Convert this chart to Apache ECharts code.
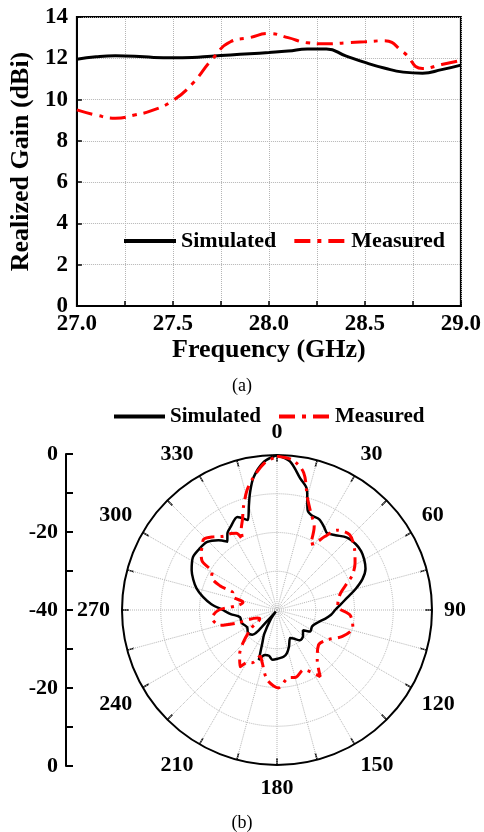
<!DOCTYPE html>
<html>
<head>
<meta charset="utf-8">
<script src="https://cdn.jsdelivr.net/npm/echarts@6/dist/echarts.min.js"></script>
<style>
html,body{margin:0;padding:0;background:#fff;}
#c{width:484px;height:832px;}
</style>
</head>
<body>
<div id="c"></div>
<script>
// ---- (a) Realized gain vs frequency ----
var freq = [27.0,27.1,27.2,27.3,27.4,27.5,27.6,27.7,27.8,27.9,28.0,28.1,28.2,28.3,28.4,28.5,28.6,28.7,28.8,28.9,29.0];
var gainSim = [11.95,12.07,12.12,12.1,12.04,12.02,12.04,12.1,12.16,12.22,12.28,12.35,12.45,12.45,12.12,11.8,11.53,11.33,11.28,11.45,11.67];
var gainMeas = [9.5,9.25,9.1,9.25,9.5,9.95,10.75,11.9,12.8,13.0,13.2,13.0,12.75,12.7,12.75,12.8,12.85,12.3,11.5,11.7,11.9];

// ---- (b) Radiation pattern (dB, normalized) ----
var simAng = [0,5,10,14,17,20,25,30,33,38,44,50,55,60,65,70,75,80,85,90,95,100,107,115,123,128,135,143,150,155,162,167,172,178,185,190,195,200,204,208,214,218,222,225,232,240,250,259,265,270,275,280,285,290,295,302,308,314,320,324,327,331,337,342,345,347,350,355,360];
var simDb = [0,-1.5,-5.5,-8,-13,-14,-14.2,-15.5,-16.3,-15.5,-14,-13.5,-13.5,-14,-14.8,-16.5,-19,-21.6,-23.5,-25,-26,-27.3,-29,-30,-29.8,-31.5,-30.5,-30.2,-31.5,-32,-30,-28.6,-27.8,-27.5,-27.1,-28,-28,-26.3,-30.7,-33,-37,-39.5,-36,-31,-30.5,-31.1,-30.3,-30.3,-28,-26,-23,-20.6,-18.5,-17,-15.7,-14.4,-14.5,-14.8,-16.5,-18.2,-16.5,-15.4,-13.9,-15.6,-12,-9,-5.2,-1.6,0];
var measAng = [0,6,11,15,19,24,27,30,33,37,44,52,59,65,69,75,81,87,94,103,112,121,130,141,147,156,164,171,179,188,196,200,205,209,213,220,226,235,243,248,252,255,263,270,277,283,287,291,293,297,300,303,307,311,314,319,324,329,332,334,336,339,342,346,350,355,360];
var measDb = [-0.3,-1.1,-3.9,-9.8,-13.3,-16.4,-21,-20,-17.4,-14.2,-13,-14.6,-16.5,-18.5,-20.6,-23,-24,-24.3,-21.1,-19.9,-21.8,-25,-26,-23.5,-19.5,-23.1,-22,-22.2,-19.9,-21.8,-26,-27.3,-25,-24.6,-22.5,-25,-27.8,-32,-35,-34.5,-29.2,-24.8,-23.1,-25,-30,-31,-28,-27.8,-24,-21,-20.7,-17,-15.5,-14.5,-13.7,-15,-16.5,-17,-17.6,-19.9,-17.3,-15.1,-12,-8.1,-5.2,-2,-0.3];

var FONT = 'Liberation Serif';
function zip(a, b) { return a.map(function (v, i) { return [v, b[i]]; }); }
function zipPolar(ang, db) { return ang.map(function (a, i) { return [db[i], a]; }); }

var dashDot = [16, 7, 4, 7];
var grid = {type: 'dotted', color: '#b5b5b5', width: 1};
var legendItem = {opacity: 0, color: 'transparent', borderWidth: 0};

var chart = echarts.init(document.getElementById('c'));
chart.setOption({
  backgroundColor: '#fff',
  animation: false,
  title: [
    {text: '(a)', left: 'center', top: 372, textStyle: {fontFamily: FONT, fontSize: 18, fontWeight: 'normal', color: '#000'}},
    {text: '(b)', left: 'center', top: 809, textStyle: {fontFamily: FONT, fontSize: 18, fontWeight: 'normal', color: '#000'}}
  ],
  legend: [
    {left: 117, top: 225, itemWidth: 52, itemHeight: 14, itemGap: 16, data: ['Simulated', 'Measured'],
     itemStyle: legendItem, lineStyle: {width: 4},
     textStyle: {fontFamily: FONT, fontSize: 22, fontWeight: 'bold', color: '#000'}},
    {left: 107, top: 401, itemWidth: 51, itemHeight: 14, itemGap: 16, data: ['Simulated', 'Measured'],
     itemStyle: legendItem, lineStyle: {width: 4},
     textStyle: {fontFamily: FONT, fontSize: 21, fontWeight: 'bold', color: '#000'}}
  ],
  grid: [
    {left: 75, right: 23, top: 17, height: 289, show: true, borderColor: '#000', borderWidth: 2, backgroundColor: 'transparent'},
    {left: 66, top: 454, width: 10, height: 312}
  ],
  xAxis: [
    {gridIndex: 0, type: 'value', min: 27, max: 29, interval: 0.25,
     name: 'Frequency (GHz)', nameLocation: 'middle', nameGap: 29,
     nameTextStyle: {fontFamily: FONT, fontSize: 26, fontWeight: 'bold', color: '#000'},
     axisLine: {lineStyle: {color: '#000', width: 2}},
     axisTick: {inside: true, length: 5, lineStyle: {color: '#000', width: 1.5}},
     axisLabel: {margin: 7, fontFamily: FONT, fontSize: 23, fontWeight: 'bold', color: '#000',
       formatter: function (v) { return Math.round(v * 100) % 50 === 0 ? v.toFixed(1) : ''; }},
     splitLine: {show: true, lineStyle: grid}},
    {gridIndex: 1, type: 'value', min: 0, max: 1, show: false}
  ],
  yAxis: [
    {gridIndex: 0, type: 'value', min: 0, max: 14, interval: 2,
     name: 'Realized Gain (dBi)', nameLocation: 'middle', nameGap: 40,
     nameTextStyle: {fontFamily: FONT, fontSize: 26, fontWeight: 'bold', color: '#000'},
     axisLine: {lineStyle: {color: '#000', width: 2}},
     axisTick: {inside: true, length: 5, lineStyle: {color: '#000', width: 1.5}},
     axisLabel: {margin: 9, fontFamily: FONT, fontSize: 23, fontWeight: 'bold', color: '#000'},
     splitLine: {show: true, lineStyle: grid}},
    {gridIndex: 1, type: 'value', min: -40, max: 40, interval: 10,
     axisLine: {show: true, lineStyle: {color: '#000', width: 2}},
     axisTick: {show: true, inside: true, length: 7, lineStyle: {color: '#000', width: 2}},
     axisLabel: {margin: 8, fontFamily: FONT, fontSize: 22, fontWeight: 'bold', color: '#000',
       formatter: function (v) { return v % 20 === 0 ? String(Math.abs(v) - 40) : ''; }},
     splitLine: {show: false}}
  ],
  polar: {center: [277, 610], radius: 155},
  angleAxis: {type: 'value', min: 0, max: 360, interval: 15, startAngle: 90, clockwise: true,
    axisLine: {lineStyle: {color: '#000', width: 2}},
    axisTick: {show: true, inside: true, length: 7, lineStyle: {color: '#000', width: 1.5}},
    axisLabel: {margin: 12, fontFamily: FONT, fontSize: 22, fontWeight: 'bold', color: '#000',
      formatter: function (v) { return (v % 30 === 0 && v !== 360) ? String(v) : ''; }},
    splitLine: {show: true, lineStyle: grid}},
  radiusAxis: {type: 'value', min: -40, max: 0, interval: 10,
    axisLine: {show: false}, axisTick: {show: false}, axisLabel: {show: false},
    splitLine: {show: true, lineStyle: grid}},
  series: [
    {name: 'Simulated', type: 'line', xAxisIndex: 0, yAxisIndex: 0, data: zip(freq, gainSim), smooth: true,
     symbol: 'none', lineStyle: {color: '#000', width: 3}, itemStyle: {color: '#000'}, z: 3},
    {name: 'Measured', type: 'line', xAxisIndex: 0, yAxisIndex: 0, data: zip(freq, gainMeas), smooth: true,
     symbol: 'none', lineStyle: {color: '#ff0000', width: 3, type: dashDot}, itemStyle: {color: '#ff0000'}, z: 4},
    {name: 'Simulated', type: 'line', coordinateSystem: 'polar', data: zipPolar(simAng, simDb), smooth: 0.3,
     symbol: 'none', lineStyle: {color: '#000', width: 2.5}, itemStyle: {color: '#000'}, z: 3},
    {name: 'Measured', type: 'line', coordinateSystem: 'polar', data: zipPolar(measAng, measDb), smooth: 0.3,
     symbol: 'none', lineStyle: {color: '#ff0000', width: 3, type: [14, 6, 3, 6]}, itemStyle: {color: '#ff0000'}, z: 4}
  ]
});
</script>
</body>
</html>
